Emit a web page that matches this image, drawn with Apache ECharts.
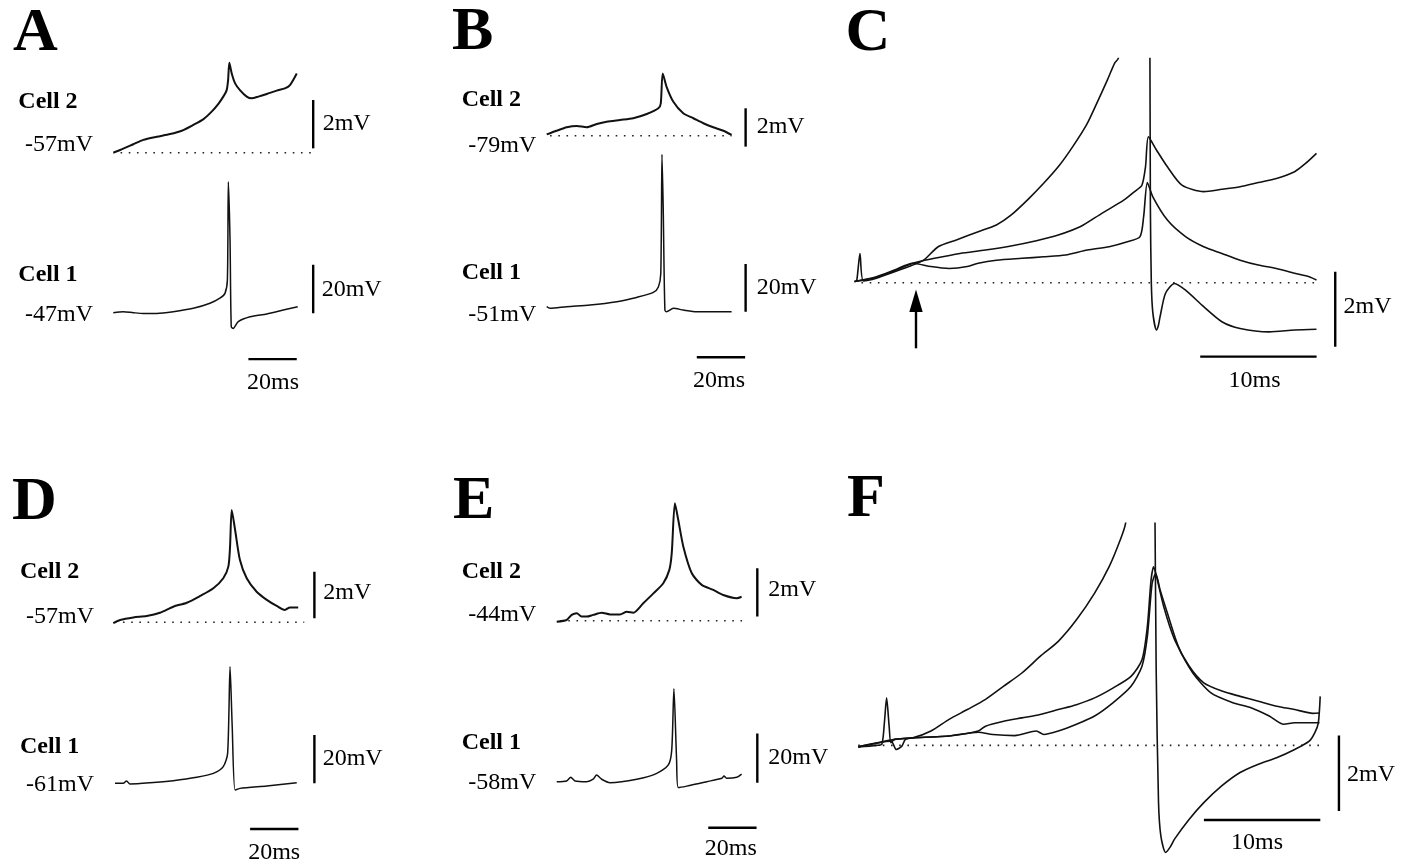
<!DOCTYPE html>
<html>
<head>
<meta charset="utf-8">
<script src="https://cdn.jsdelivr.net/npm/echarts@6/dist/echarts.min.js"></script>
<style>
  html, body { margin: 0; padding: 0; background: #fff; }
  #chart { width: 1411px; height: 866px; }
</style>
</head>
<body>
<div id="chart"></div>
<script>
// traces, time in ms from trace start, voltage in mV above resting level

// A
var cellA2 = [[0,0],[2.8,0.11],[8.3,0.35],[12.4,0.53],[18.0,0.66],[23.5,0.77],[28.3,0.91],[33.1,1.15],[37.2,1.38],[40.7,1.70],[43.4,2.01],[45.5,2.32],[46.9,2.59],[47.5,3.01],[48.0,3.72],[49.0,3.28],[50.4,2.87],[52.4,2.59],[55.2,2.32],[57.3,2.25],[60.0,2.32],[63.5,2.43],[67.6,2.57],[71.0,2.66],[73.1,2.80],[75.9,3.28]];
var cellA1 = [[0,0],[4.1,0.4],[8.3,0],[12.4,-0.3],[18.0,-0.3],[24.8,0.4],[33.1,1.8],[40.0,3.9],[44.1,6.0],[46.2,8.0],[47.2,13.5],[47.6,54.2],[48.3,30.1],[48.8,-5.8],[49.6,-6.5],[51.7,-3.7],[56.6,-1.7],[63.5,-0.5],[70.3,1.1],[76.3,2.5]];
// B
var cellB2 = [[0,0.07],[4.1,0.26],[8.3,0.44],[12.4,0.51],[16.5,0.44],[20.7,0.61],[24.8,0.73],[30.3,0.82],[35.8,0.91],[41.4,1.13],[46.2,1.43],[47.2,1.69],[48.0,3.25],[49.6,2.55],[52.4,1.77],[56.5,1.17],[60.7,0.91],[64.8,0.65],[68.9,0.44],[73.1,0.26],[76.5,0.04]];
var cellB1 = [[0,0],[1.4,-0.7],[8.3,0],[17.9,0.7],[29.0,2.1],[37.2,3.9],[44.1,6.0],[46.2,8.3],[47.2,13.9],[47.7,63.9],[48.2,41.7],[48.9,-1.4],[49.6,-2.1],[52.4,-0.7],[56.5,-1.4],[62.1,-2.1],[76.5,-2.1]];
// C, three sweeps of cell 2
var sweepC1 = [[0,0.03],[0.19,0.05],[0.47,0.78],[0.76,0.05],[1.88,0.12],[3.44,0.29],[5.0,0.47],[5.94,0.60],[7.19,0.96],[8.75,1.14],[10.63,1.36],[12.19,1.54],[13.44,1.80],[15.0,2.25],[16.25,2.65],[17.5,3.09],[18.75,3.63],[20.0,4.25],[20.94,4.87],[21.72,5.40],[22.34,5.85],[22.66,5.98],[23.4,7.5],[25.3,7.5],[25.38,5.98],[25.42,2.0],[25.5,0],[25.63,-0.8],[25.94,-1.26],[26.1,-1.15],[26.25,-0.91],[26.72,-0.28],[27.5,-0.02],[28.44,-0.20],[30.0,-0.64],[31.56,-1.04],[33.13,-1.22],[35.63,-1.31],[37.81,-1.26],[39.69,-1.24]];
var sweepC2 = [[0,0.03],[1.88,0.14],[3.44,0.32],[5.0,0.52],[6.88,0.65],[9.06,0.78],[11.25,0.87],[13.44,0.98],[15.63,1.12],[17.5,1.27],[19.38,1.49],[21.25,1.85],[23.13,2.20],[24.06,2.43],[24.69,2.60],[25.0,3.09],[25.25,3.89],[25.94,3.54],[26.88,3.09],[28.13,2.60],[30.0,2.43],[31.56,2.49],[33.13,2.56],[34.69,2.67],[36.25,2.78],[37.81,2.96],[38.75,3.18],[39.69,3.45]];
var sweepC3 = [[0,0.03],[1.88,0.16],[3.44,0.34],[5.0,0.52],[6.56,0.43],[8.13,0.38],[9.69,0.43],[10.63,0.52],[12.19,0.60],[14.38,0.65],[16.25,0.69],[18.13,0.74],[20.0,0.87],[21.88,0.96],[23.44,1.09],[24.53,1.23],[24.84,1.76],[25.16,2.67],[25.63,2.29],[26.88,1.67],[28.44,1.23],[30.0,0.96],[31.56,0.78],[33.13,0.60],[34.69,0.47],[36.25,0.38],[37.81,0.25],[39.06,0.16],[39.69,0.07]];
// D
var cellD2 = [[0,-0.04],[2.8,0.10],[8.3,0.21],[13.8,0.27],[19.3,0.41],[24.8,0.67],[30.4,0.84],[35.9,1.13],[41.4,1.46],[45.5,1.89],[47.6,2.39],[48.3,3.24],[49.0,4.82],[50.4,3.96],[52.4,2.67],[55.2,1.89],[59.3,1.31],[63.5,0.96],[67.6,0.70],[71.0,0.53],[73.1,0.64],[76.5,0.63]];
var cellD1 = [[0.7,0],[4.1,0],[5.5,1.0],[6.9,-0.3],[15.2,0.2],[24.8,1.1],[34.5,2.5],[41.4,4.1],[45.5,6.9],[47.3,12.4],[48.3,48.3],[49.2,23.4],[50.4,-2.8],[52.4,-2.1],[63.5,-1.1],[75.9,0.2]];
// E
var cellE2 = [[0,-0.04],[4.1,0.03],[6.2,0.24],[8.3,0.31],[10.3,0.17],[12.4,0.17],[15.1,0.24],[18.6,0.33],[22.1,0.26],[26.2,0.26],[29.0,0.37],[31.7,0.33],[35.8,0.72],[40.0,1.13],[44.1,1.55],[46.6,2.10],[47.6,2.79],[48.9,4.85],[50.3,4.16],[52.4,3.06],[55.9,1.96],[60.0,1.48],[64.8,1.27],[68.9,1.06],[74.5,0.93],[76.5,0.99]];
var cellE1 = [[0,0],[4.1,0.3],[5.8,1.8],[7.6,0.3],[12.4,0],[15.1,1.0],[16.5,2.7],[18.6,1.0],[22.1,-0.4],[33.1,1.0],[41.4,3.4],[46.2,6.8],[47.6,12.9],[48.5,37.7],[49.6,8.9],[50.3,-2.4],[53.8,-1.8],[62.1,0],[68.3,1.4],[69.2,2.3],[70.3,1.4],[74.5,1.8],[76.5,3.1]];
// F, three sweeps of cell 2
var sweepF1 = [[0,-0.04],[1.56,0],[2.03,0.03],[2.25,0.6],[2.44,1.26],[2.66,0.5],[2.81,0.07],[3.13,0.16],[4.69,0.20],[6.25,0.38],[7.81,0.69],[9.38,0.95],[10.94,1.22],[12.5,1.57],[14.06,1.92],[15.63,2.36],[17.19,2.76],[18.75,3.33],[20.31,4.04],[21.56,4.74],[22.5,5.44],[22.97,5.89],[23.5,7.5],[25.4,7.5],[25.5,5.89],[25.6,2.0],[25.8,-1.5],[26.0,-2.4],[26.41,-2.84],[26.8,-2.7],[27.19,-2.48],[28.44,-1.96],[29.69,-1.52],[31.25,-1.07],[32.81,-0.72],[34.38,-0.50],[35.94,-0.33],[37.5,-0.11],[38.75,0.11],[39.22,0.33],[39.53,0.60],[39.69,1.30]];
var sweepF2 = [[0,-0.04],[3.13,0.16],[4.69,0.20],[7.81,0.25],[10.31,0.38],[10.94,0.51],[12.5,0.64],[14.06,0.73],[15.63,0.82],[17.19,0.95],[18.75,1.08],[20.31,1.26],[21.88,1.52],[23.44,1.83],[24.38,2.27],[24.84,3.15],[25.16,4.39],[25.38,4.74],[25.63,4.48],[26.25,3.68],[27.19,2.80],[28.44,2.10],[29.69,1.66],[31.25,1.44],[32.81,1.30],[34.38,1.17],[35.94,1.04],[37.5,0.95],[39.06,0.85],[39.63,0.86]];
var sweepF3 = [[0,-0.04],[2.81,0.11],[3.28,-0.11],[3.75,-0.02],[4.06,0.16],[4.69,0.20],[7.81,0.25],[10.31,0.35],[11.56,0.29],[13.44,0.26],[15.31,0.38],[15.94,0.29],[17.19,0.38],[18.75,0.56],[20.31,0.78],[21.88,1.13],[23.44,1.57],[24.38,2.10],[24.84,2.89],[25.25,4.30],[25.56,4.56],[25.94,4.12],[26.56,3.51],[27.5,2.63],[28.75,1.92],[30.31,1.39],[32.19,1.13],[33.75,1.00],[35.31,0.78],[36.56,0.56],[37.5,0.60],[39.06,0.60],[39.63,0.60]];

var panelLetters = ['A', 'B', 'C', 'D', 'E', 'F'];
var restA = ['-57mV', '-47mV'];
var restB = ['-79mV', '-51mV'];
var restD = ['-57mV', '-61mV'];
var restE = ['-44mV', '-58mV'];

var FONT = '"Liberation Serif", "Times New Roman", serif';

// x0,y0 = pixel of t=0, v=0 ; sx px per ms ; sy px per mV
var groups = [
  {x0: 113.3, y0: 152.7, sx: 2.417, sy: 24.17, t: [0, 90], v: [-1, 4.2], lw: 2, traces: [cellA2], base: [3, 82],
   bars: [{t: 82.7, v: 0.18, dv: 2}]},
  {x0: 113.3, y0: 312.7, sx: 2.417, sy: 2.417, t: [0, 90], v: [-25, 60], lw: 1.5, traces: [cellA1],
   bars: [{t: 82.7, v: -0.2, dv: 20}, {t: 55.9, v: -19.2, dt: 20}]},
  {x0: 546.7, y0: 135.7, sx: 2.417, sy: 19.17, t: [0, 90], v: [-1, 4], lw: 2, traces: [cellB2], base: [1.4, 76.5],
   bars: [{t: 82.3, v: -0.57, dv: 2}]},
  {x0: 546.7, y0: 306.7, sx: 2.417, sy: 2.385, t: [0, 90], v: [-25, 70], lw: 1.5, traces: [cellB1],
   bars: [{t: 82.3, v: -2.1, dv: 20}, {t: 62.1, v: -21.2, dt: 20}]},
  {x0: 854.5, y0: 282.7, sx: 11.64, sy: 37.5, t: [0, 42], v: [-2.2, 5.98], lw: 1.6, traces: [sweepC1, sweepC2, sweepC3], base: [0.6, 39.7], clip: true,
   bars: [{t: 41.3, v: -1.71, dv: 2}, {t: 29.7, v: -1.97, dt: 10}]},
  {x0: 113.3, y0: 622.3, sx: 2.417, sy: 23.3, t: [0, 90], v: [-1, 5], lw: 2, traces: [cellD2], base: [4, 79],
   bars: [{t: 83.2, v: 0.17, dv: 2}]},
  {x0: 113.3, y0: 783.3, sx: 2.417, sy: 2.415, t: [0, 90], v: [-25, 55], lw: 1.5, traces: [cellD1],
   bars: [{t: 83.2, v: 0, dv: 20}, {t: 56.6, v: -18.9, dt: 20}]},
  {x0: 556.7, y0: 620.7, sx: 2.417, sy: 24.2, t: [0, 90], v: [-1, 5], lw: 2, traces: [cellE2], base: [1.4, 77.9],
   bars: [{t: 83.0, v: 0.17, dv: 2}]},
  {x0: 556.7, y0: 781.7, sx: 2.417, sy: 2.465, t: [0, 90], v: [-25, 45], lw: 1.5, traces: [cellE1],
   bars: [{t: 83.0, v: -0.4, dv: 20}, {t: 62.7, v: -18.7, dt: 20}]},
  {x0: 858.2, y0: 746, sx: 11.64, sy: 37.8, t: [0, 42], v: [-3.2, 5.89], lw: 1.6, traces: [sweepF1, sweepF2, sweepF3], base: [0, 39.8], clip: true,
   bars: [{t: 41.3, v: -1.74, dv: 2}, {t: 29.7, v: -1.98, dt: 10}]}
];

var grids = [], xAxes = [], yAxes = [], series = [];

groups.forEach(function (g, i) {
  grids.push({
    left: g.x0 + g.t[0] * g.sx,
    top: g.y0 - g.v[1] * g.sy,
    width: (g.t[1] - g.t[0]) * g.sx,
    height: (g.v[1] - g.v[0]) * g.sy
  });
  xAxes.push({type: 'value', gridIndex: i, min: g.t[0], max: g.t[1], show: false});
  yAxes.push({type: 'value', gridIndex: i, min: g.v[0], max: g.v[1], show: false});

  g.traces.forEach(function (d) {
    series.push({
      type: 'line', xAxisIndex: i, yAxisIndex: i, data: d,
      symbol: 'none', clip: !!g.clip, silent: true,
      smooth: 0.25,
      lineStyle: {color: '#111', width: g.lw, join: 'round'}
    });
  });

  if (g.base) {
    series.push({
      type: 'line', xAxisIndex: i, yAxisIndex: i, data: [[g.base[0], 0], [g.base[1], 0]],
      symbol: 'none', clip: false, silent: true, z: 1,
      lineStyle: {color: '#222', width: 1.6, type: [1.6, 6.6]}
    });
  }

  // scale bars
  g.bars.forEach(function (b) {
    var d = b.dv ? [[b.t, b.v], [b.t, b.v + b.dv]] : [[b.t, b.v], [b.t + b.dt, b.v]];
    series.push({
      type: 'line', xAxisIndex: i, yAxisIndex: i, data: d,
      symbol: 'none', clip: false, silent: true,
      lineStyle: {color: '#000', width: 2.4, cap: 'butt'}
    });
  });
});

function txt(s, x, y, size, bold, align) {
  return {
    type: 'text', x: x, y: y, silent: true,
    style: {
      text: s, fill: '#000',
      font: (bold ? 'bold ' : '') + size + 'px ' + FONT,
      textAlign: align || 'left', textVerticalAlign: 'middle'
    }
  };
}

var letterPos = [[13, 34], [452, 33], [845.5, 33.5], [12, 502.5], [453, 501.5], [847, 500]];
var graphics = [];
panelLetters.forEach(function (l, i) {
  graphics.push(txt(l, letterPos[i][0], letterPos[i][1], 62, true));
});

// cell labels and resting potentials
[[18.3, 101.7, 275, 25, 145, 315, restA],
 [461.7, 100, 273, 468.3, 146, 315, restB],
 [20, 571.7, 746.7, 26, 616.7, 785, restD],
 [461.7, 571.7, 743, 468.3, 615, 783, restE]].forEach(function (p) {
  graphics.push(txt('Cell 2', p[0], p[1], 24, true));
  graphics.push(txt('Cell 1', p[0], p[2], 24, true));
  graphics.push(txt(p[6][0], p[3], p[4], 24, false));
  graphics.push(txt(p[6][1], p[3], p[5], 24, false));
});

// scale bar labels
[['2mV', 322.7, 123.3], ['20mV', 321.7, 290], ['2mV', 756.7, 126.7], ['20mV', 756.7, 287.5],
 ['2mV', 1343.6, 306.7], ['2mV', 323.3, 592.5], ['20mV', 322.7, 759],
 ['2mV', 768.3, 590], ['20mV', 768.3, 758], ['2mV', 1347, 775]].forEach(function (p) {
  graphics.push(txt(p[0], p[1], p[2], 24, false));
});
[['20ms', 273, 382.5], ['20ms', 719, 380.8], ['10ms', 1254.5, 381], ['20ms', 274.2, 852.5],
 ['20ms', 730.8, 849], ['10ms', 1257, 843]].forEach(function (p) {
  graphics.push(txt(p[0], p[1], p[2], 24, false, 'center'));
});

// stimulus arrow in C
graphics.push({type: 'line', silent: true, shape: {x1: 916, y1: 348.3, x2: 916, y2: 305},
  style: {stroke: '#000', lineWidth: 2.4}});
graphics.push({type: 'polygon', silent: true, shape: {points: [[916, 289.5], [909.3, 312], [922.7, 312]]},
  style: {fill: '#000'}});

var chart = echarts.init(document.getElementById('chart'));
chart.setOption({
  animation: false,
  backgroundColor: '#fff',
  grid: grids,
  xAxis: xAxes,
  yAxis: yAxes,
  series: series,
  graphic: graphics
});
</script>
</body>
</html>
